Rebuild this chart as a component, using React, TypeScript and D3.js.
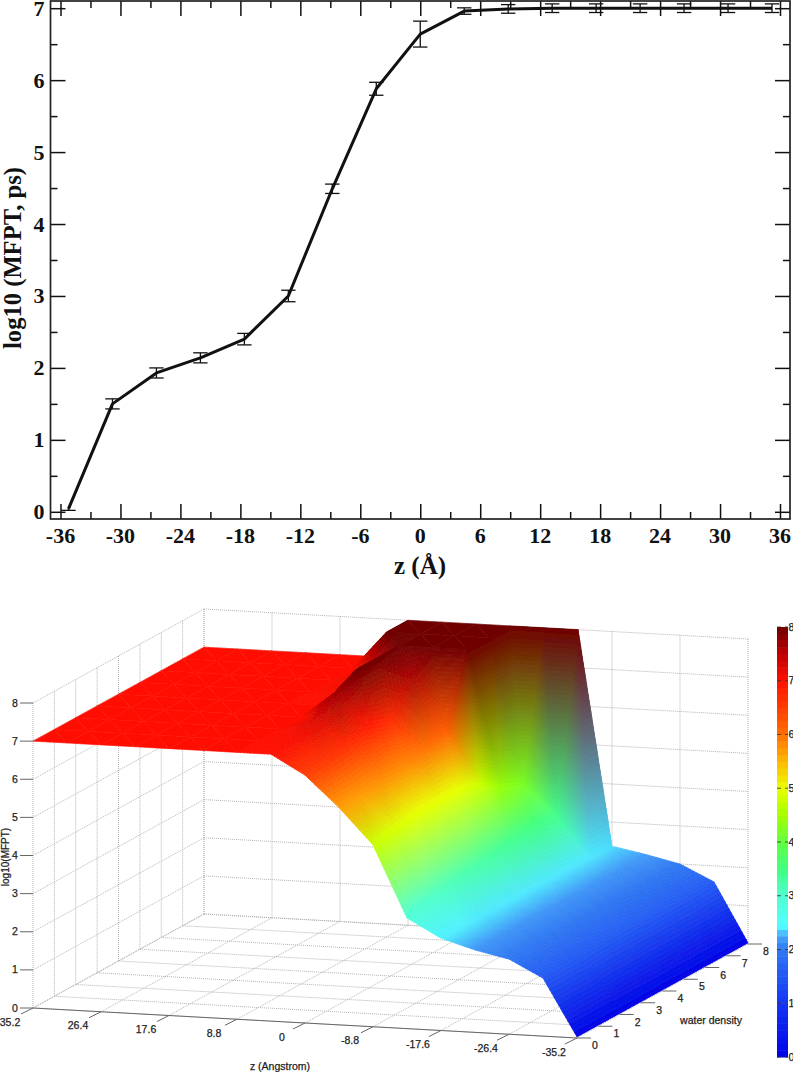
import { useRef, useEffect } from "react"
import * as d3 from "d3"

// top panel: MFPT profile
const zProfile = [-35.2, -30.8, -26.4, -22, -17.6, -13.2, -8.8, -4.4, 0, 4.4, 8.8, 13.2, 17.6, 22, 26.4, 30.8, 35.2]
const mfpt = [0.04, 1.5, 1.93, 2.14, 2.4, 3.0, 4.49, 5.88, 6.64, 6.96, 6.99, 7, 7, 7, 7, 7, 7]
const mfptErr = [0.02, 0.07, 0.07, 0.07, 0.08, 0.08, 0.065, 0.09, 0.18, 0.045, 0.06, 0.06, 0.06, 0.06, 0.06, 0.06, 0.06]
const majorX = [-36, -30, -24, -18, -12, -6, 0, 6, 12, 18, 24, 30, 36]
const minorX = [-33, -27, -21, -15, -9, -3, 3, 9, 15, 21, 27, 33]
const majorY = [0, 1, 2, 3, 4, 5, 6, 7]
const minorY = [0.5, 1.5, 2.5, 3.5, 4.5, 5.5, 6.5]

// bottom panel: surface, one row per water density, columns follow zSurface
const zSurface = [35.2, 30.8, 26.4, 22, 17.6, 13.2, 8.8, 4.4, 0, -4.4, -8.8, -13.2, -17.6, -22, -26.4, -30.8, -35.2]
const water0 = [7, 7, 7, 7, 7, 7, 7, 7, 6.5, 5.7, 4.77, 2.9, 2.42, 2.16, 1.97, 1.52, 0.03]
const water1 = [7, 7, 7, 7, 7, 7, 7, 7.05, 6.6, 5.7, 4.9, 3.0, 2.42, 2.16, 1.97, 1.52, 0.03]
const water2 = [7, 7, 7, 7, 7, 7, 7, 7.25, 6.7, 5.8, 5.0, 3.1, 2.4, 2.16, 1.97, 1.52, 0.03]
const water3 = [7, 7, 7, 7, 7, 7, 7, 7.7, 6.9, 5.8, 5.0, 3.2, 2.4, 2.16, 1.97, 1.55, 0.03]
const water4 = [7, 7, 7, 7, 7, 7, 7, 8, 6.7, 6.0, 5.0, 3.3, 2.4, 2.16, 1.97, 1.55, 0.03]
const water5 = [7, 7, 7, 7, 7, 7, 7.1, 8, 7.7, 6.2, 4.8, 3.4, 2.4, 2.16, 1.97, 1.55, 0.03]
const water6 = [7, 7, 7, 7, 7, 7, 7.2, 8, 8, 8, 4.4, 3.5, 2.4, 2.16, 1.97, 1.55, 0.03]
const water7 = [7, 7, 7, 7, 7, 7, 8, 8, 8, 8, 4.2, 3.4, 2.4, 2.16, 1.97, 1.55, 0.03]
const water8 = [7, 7, 7, 7, 7, 7, 8, 8, 8, 8, 8, 8, 2.37, 2.2, 2.0, 1.58, 0.03]
const surfaceRows = [water0, water1, water2, water3, water4, water5, water6, water7, water8]

const zLabels = [35.2, 26.4, 17.6, 8.8, 0, -8.8, -17.6, -26.4, -35.2]
const waterLabels = [0, 1, 2, 3, 4, 5, 6, 7, 8]
const heightLabels = [0, 1, 2, 3, 4, 5, 6, 7, 8]

const colorStops = [0, 1, 2, 2.25, 2.45, 3, 3.5, 4, 4.5, 5, 5.5, 6, 6.5, 7, 7.5, 8]
const colorRamp = ["#0000e6", "#1436f5", "#2f78f2", "#48a4fa", "#50ffff", "#50ffd0", "#40ff80", "#60ff40", "#a4ff00", "#e8ff00", "#ffb800", "#ff7000", "#ff3c00", "#ff1000", "#c00000", "#700000"]

const App = () => {
  const svgRef = useRef<SVGSVGElement>(null)

  useEffect(() => {
    const svg = d3.select(svgRef.current)
    svg.selectAll("*").remove()
    drawProfile(svg)
    drawSurface(svg)
  }, [])

  return <svg ref={svgRef} width={793} height={1072} style={{ position: "absolute", left: 0, top: 0, background: "#fff" }} />
}

function drawProfile(svg: any) {
  const x = d3.scaleLinear().domain([-37, 37]).range([50.5, 790])
  const y = d3.scaleLinear().domain([-0.1, 7.1]).range([519, 1])
  const serif = "'Liberation Serif', serif"
  const g = svg.append("g").attr("font-family", serif)

  const ticks = (axis: any, values: number[], size: number, dx: number, dy: number) => {
    const a = g.append("g")
      .attr("transform", `translate(${dx},${dy})`)
      .call(axis.tickValues(values).tickSize(-size).tickFormat(() => ""))
    a.select(".domain").remove()
    a.selectAll("line").attr("stroke", "#111").attr("stroke-width", 1.5)
  }
  ticks(d3.axisBottom(x), majorX, 15, 0, 519)
  ticks(d3.axisBottom(x), minorX, 7, 0, 519)
  ticks(d3.axisTop(x), majorX, 15, 0, 1)
  ticks(d3.axisTop(x), minorX, 7, 0, 1)
  ticks(d3.axisLeft(y), majorY, 15, 50.5, 0)
  ticks(d3.axisLeft(y), minorY, 7, 50.5, 0)
  ticks(d3.axisRight(y), majorY, 15, 790, 0)
  ticks(d3.axisRight(y), minorY, 7, 790, 0)

  g.append("rect")
    .attr("x", 50.5).attr("y", 1).attr("width", 739.5).attr("height", 518)
    .attr("fill", "none").attr("stroke", "#222").attr("stroke-width", 1.7)

  g.selectAll(".xl").data(majorX).enter().append("text")
    .attr("x", (d: number) => x(d)).attr("y", 543)
    .attr("text-anchor", "middle").attr("font-size", 22).attr("font-weight", "bold").attr("fill", "#111")
    .text((d: number) => d)
  g.selectAll(".yl").data(majorY).enter().append("text")
    .attr("x", 44.5).attr("y", (d: number) => y(d) + 7.5)
    .attr("text-anchor", "end").attr("font-size", 22).attr("font-weight", "bold").attr("fill", "#111")
    .text((d: number) => d)

  g.append("text").attr("x", 420).attr("y", 574).attr("text-anchor", "middle")
    .attr("font-size", 25).attr("font-weight", "bold").attr("fill", "#111").text("z (Å)")
  g.append("text").attr("transform", "translate(21,258) rotate(-90)").attr("text-anchor", "middle")
    .attr("font-size", 24.6).attr("font-weight", "bold").attr("fill", "#111").text("log10 (MFPT, ps)")

  // error bars
  const bars = g.append("g").attr("stroke", "#111").attr("stroke-width", 1.3)
  zProfile.forEach((z, i) => {
    const hi = y(mfpt[i] + mfptErr[i])
    const lo = y(mfpt[i] - mfptErr[i])
    bars.append("line").attr("x1", x(z)).attr("x2", x(z)).attr("y1", hi).attr("y2", lo)
    if (i > 0) bars.append("line").attr("x1", x(z) - 7.2).attr("x2", x(z) + 7.2).attr("y1", hi).attr("y2", hi)
    bars.append("line").attr("x1", x(z) - 7.2).attr("x2", x(z) + 7.2).attr("y1", lo).attr("y2", lo)
  })

  const line = d3.line<number>().x((_, i) => x(zProfile[i])).y((d) => y(d))
  g.append("path").datum(mfpt).attr("d", line).attr("fill", "none")
    .attr("stroke", "#111").attr("stroke-width", 3).attr("stroke-linejoin", "round")
}

function drawSurface(svg: any) {
  // the 3D view is orthographic, so each data axis maps to a screen offset
  const zToX = d3.scaleLinear().domain([35.2, -35.2]).range([33, 577])
  const zToY = d3.scaleLinear().domain([35.2, -35.2]).range([1008, 1038])
  const wToX = d3.scaleLinear().domain([0, 8]).range([0, 171])
  const wToY = d3.scaleLinear().domain([0, 8]).range([0, -94])
  const hToY = d3.scaleLinear().domain([0, 8]).range([0, -305])
  const px = (z: number, w: number) => zToX(z) + wToX(w)
  const py = (z: number, w: number, h: number) => zToY(z) + wToY(w) + hToY(h)

  const color = d3.scaleLinear<string>().domain(colorStops).range(colorRamp)
  const sans = "'Liberation Sans', sans-serif"
  const g = svg.append("g").attr("font-family", sans)

  const blur = svg.append("defs").append("filter").attr("id", "soft")
    .attr("x", "-5%").attr("y", "-5%").attr("width", "110%").attr("height", "110%")
  blur.append("feGaussianBlur").attr("stdDeviation", 0.7)

  const gridLine = (z1: number, w1: number, h1: number, z2: number, w2: number, h2: number) =>
    g.append("line")
      .attr("x1", px(z1, w1)).attr("y1", py(z1, w1, h1))
      .attr("x2", px(z2, w2)).attr("y2", py(z2, w2, h2))
      .attr("stroke", "#b4b4b4").attr("stroke-width", 1).attr("stroke-dasharray", "1 1")

  const z0 = zLabels[0]
  const zN = zLabels[zLabels.length - 1]
  heightLabels.forEach((h) => {
    gridLine(z0, 0, h, z0, 8, h)
    gridLine(z0, 8, h, zN, 8, h)
  })
  zLabels.forEach((z) => {
    gridLine(z, 8, 0, z, 8, 8)
    gridLine(z, 0, 0, z, 8, 0)
  })
  waterLabels.forEach((w) => {
    gridLine(z0, w, 0, z0, w, 8)
    gridLine(z0, w, 0, zN, w, 0)
  })

  // surface: each grid cell is two triangles, split into small flat pieces for the smooth vertex colouring
  const mesh = g.append("g").attr("filter", "url(#soft)")
  const outline = d3.line()
  const vertex = (i: number, j: number) => {
    const h = surfaceRows[i][j]
    const c = d3.rgb(color(h))
    return { x: px(zSurface[j], i), y: py(zSurface[j], i, h), c: [c.r, c.g, c.b], h }
  }
  const shadeTriangle = (a: any, b: any, c: any, n: number) => {
    const at = (u: number, v: number): [number, number] => {
      const t = 1 - u - v
      return [a.x * t + b.x * u + c.x * v, a.y * t + b.y * u + c.y * v]
    }
    const piece = (pts: [number, number][], u: number, v: number) => {
      const t = 1 - u - v
      const mix = [0, 1, 2].map((k) => a.c[k] * t + b.c[k] * u + c.c[k] * v)
      const fill = d3.rgb(mix[0], mix[1], mix[2]).formatHex()
      mesh.append("path").attr("d", outline(pts) + "Z").attr("fill", fill).attr("stroke", fill).attr("stroke-width", 0.6)
    }
    for (let p = 0; p < n; p++) {
      for (let q = 0; q < n - p; q++) {
        const u = p / n
        const v = q / n
        const d = 1 / n
        piece([at(u, v), at(u + d, v), at(u, v + d)], u + d / 3, v + d / 3)
        if (p + q < n - 1) piece([at(u + d, v), at(u + d, v + d), at(u, v + d)], u + (2 * d) / 3, v + (2 * d) / 3)
      }
    }
  }
  for (let i = surfaceRows.length - 2; i >= 0; i--) {
    for (let j = 0; j < zSurface.length - 1; j++) {
      const v00 = vertex(i, j), v01 = vertex(i, j + 1), v10 = vertex(i + 1, j), v11 = vertex(i + 1, j + 1)
      const hs = [v00.h, v01.h, v10.h, v11.h]
      const span = d3.max(hs)! - d3.min(hs)!
      const n = span === 0 ? 1 : Math.max(10, Math.min(40, Math.ceil(span * 10)))
      shadeTriangle(v10, v11, v01, n)
      shadeTriangle(v00, v10, v01, n)
    }
  }

  // box edges and ticks
  const axisLine = (x1: number, y1: number, x2: number, y2: number) =>
    g.append("line").attr("x1", x1).attr("y1", y1).attr("x2", x2).attr("y2", y2)
      .attr("stroke", "#666").attr("stroke-width", 1)
  axisLine(px(z0, 0), py(z0, 0, 0), px(zN, 0), py(zN, 0, 0))

  const label = (x: number, y: number, text: string | number, anchor = "middle") =>
    g.append("text").attr("x", x).attr("y", y).attr("text-anchor", anchor)
      .attr("font-size", 10.5).attr("fill", "#222").attr("stroke", "#222").attr("stroke-width", 0.25).text(text)

  zLabels.forEach((z) => {
    axisLine(px(z, 0), py(z, 0, 0), px(z, 0) - 12, py(z, 0, 0) + 6)
    label(px(z, 0) - 23, py(z, 0, 0) + 17.5, z)
  })
  waterLabels.forEach((w) => {
    axisLine(px(zN, w), py(zN, w, 0), px(zN, w) + 14, py(zN, w, 0))
    label(px(zN, w) + 18, py(zN, w, 0) + 11, w)
  })
  heightLabels.forEach((h) => {
    axisLine(px(z0, 0), py(z0, 0, h), px(z0, 0) - 13, py(z0, 0, h))
    label(px(z0, 0) - 18, py(z0, 0, h) + 3.5, h)
  })

  label(280, 1070, "z (Angstrom)")
  label(711, 1024, "water density")
  g.append("text").attr("transform", "translate(9,857) rotate(-90)").attr("text-anchor", "middle")
    .attr("font-size", 10).attr("fill", "#222").attr("stroke", "#222").attr("stroke-width", 0.25).text("log10(MFPT)")

  // colour bar
  const barY = d3.scaleLinear().domain([0, 8]).range([1057, 627])
  const bands = d3.range(64)
  g.selectAll(".band").data(bands).enter().append("rect")
    .attr("x", 777).attr("width", 11)
    .attr("y", (d: number) => barY((d + 1) / 8))
    .attr("height", barY(0) - barY(1 / 8) + 0.5)
    .attr("fill", (d: number) => color((d + 0.5) / 8))
  heightLabels.forEach((h) => {
    g.append("line").attr("x1", 777).attr("x2", 781).attr("y1", barY(h)).attr("y2", barY(h)).attr("stroke", "#333").attr("stroke-width", 0.8)
    g.append("line").attr("x1", 785).attr("x2", 788).attr("y1", barY(h)).attr("y2", barY(h)).attr("stroke", "#333").attr("stroke-width", 0.8)
    label(788.5, barY(h) + 3.5, h, "start")
  })
}

export default App
